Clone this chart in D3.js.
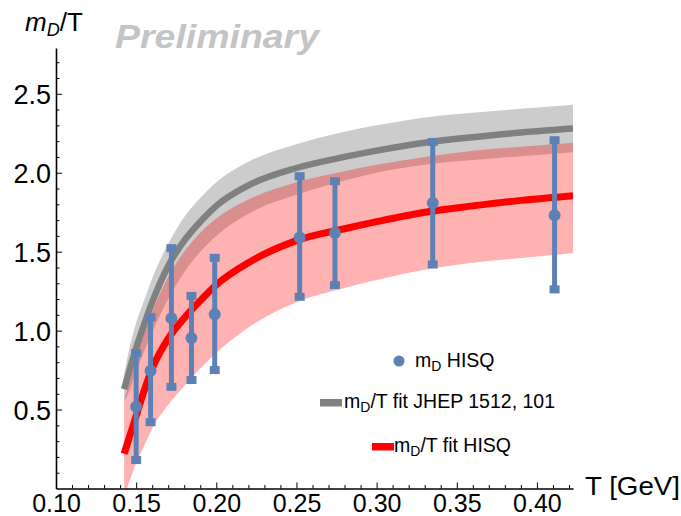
<!DOCTYPE html>
<html>
<head>
<meta charset="utf-8">
<script src="https://cdn.jsdelivr.net/npm/d3@7"></script>
<style>
  body { margin: 0; background: #fff; }
  svg { display: block; font-family: "Liberation Sans", Arial, sans-serif; }
</style>
</head>
<body>
<div id="chart-area"></div>
<script>
const fitT      = [0.1425, 0.145, 0.15, 0.155, 0.16, 0.17, 0.18, 0.19, 0.2, 0.22, 0.25, 0.28, 0.3, 0.33, 0.36, 0.39, 0.4225];
// m_D/T fit JHEP 1512, 101 (grey)
const jhepMid   = [0.63, 0.72, 0.89, 1.04, 1.18, 1.41, 1.57, 1.69, 1.79, 1.92, 2.03, 2.10, 2.14, 2.19, 2.225, 2.255, 2.28];
const jhepHi    = [0.72, 0.85, 1.05, 1.19, 1.33, 1.55, 1.72, 1.84, 1.94, 2.07, 2.18, 2.26, 2.30, 2.35, 2.38, 2.405, 2.43];
const jhepLo    = [0.55, 0.60, 0.74, 0.87, 0.99, 1.20, 1.37, 1.50, 1.60, 1.74, 1.86, 1.95, 2.00, 2.05, 2.08, 2.105, 2.13];
// m_D/T fit HISQ (red)
const hisqMid   = [0.22, 0.30, 0.46, 0.62, 0.76, 0.95, 1.08, 1.19, 1.29, 1.43, 1.57, 1.645, 1.69, 1.75, 1.79, 1.825, 1.855];
const hisqHi    = [0.55, 0.66, 0.84, 0.99, 1.12, 1.34, 1.50, 1.62, 1.71, 1.83, 1.94, 2.01, 2.05, 2.10, 2.14, 2.165, 2.19];
const hisqLo    = [-0.06, 0.02, 0.16, 0.27, 0.38, 0.53, 0.65, 0.76, 0.86, 1.02, 1.18, 1.27, 1.32, 1.385, 1.43, 1.46, 1.49];

// lattice points m_D HISQ
const ptT   = [0.150, 0.159, 0.172, 0.1845, 0.199, 0.252, 0.274, 0.335, 0.411];
const ptVal = [0.518, 0.746, 1.079, 0.953, 1.104, 1.590, 1.619, 1.809, 1.731];
const ptHi  = [0.858, 1.085, 1.522, 1.220, 1.461, 1.978, 1.946, 2.195, 2.206];
const ptLo  = [0.180, 0.420, 0.644, 0.687, 0.750, 1.214, 1.288, 1.419, 1.261];

const xTicks = [0.10, 0.15, 0.20, 0.25, 0.30, 0.35, 0.40];
const yTicks = [0.5, 1.0, 1.5, 2.0, 2.5];

const W = 681, H = 516;
const blue = "#5e81b5";

const x = d3.scaleLinear().domain([0.1, 0.4225]).range([56, 573]);
const y = d3.scaleLinear().domain([0, 2.79]).range([488.5, 48]);

const svg = d3.select("#chart-area").append("svg")
    .attr("width", W)
    .attr("height", H);

svg.append("defs").append("clipPath")
    .attr("id", "plot-clip")
  .append("rect")
    .attr("x", 56).attr("y", 0)
    .attr("width", 573 - 56).attr("height", 488.5);

const fit = fitT.map((t, i) => ({
    t: t,
    jm: jhepMid[i], jh: jhepHi[i], jl: jhepLo[i],
    hm: hisqMid[i], hh: hisqHi[i], hl: hisqLo[i]
}));

const plot = svg.append("g").attr("clip-path", "url(#plot-clip)");

const band = (lo, hi) => d3.area()
    .x(d => x(d.t))
    .y0(d => y(d[lo]))
    .y1(d => y(d[hi]))
    .curve(d3.curveMonotoneX);

const line = key => d3.line()
    .x(d => x(d.t))
    .y(d => y(d[key]))
    .curve(d3.curveMonotoneX);

// bands
plot.append("path")
    .attr("d", band("jl", "jh")(fit))
    .attr("fill", "#cccccc");

plot.append("path")
    .attr("d", band("hl", "hh")(fit))
    .attr("fill", "rgba(255,0,0,0.3)");

// central lines
plot.append("path")
    .attr("d", line("jm")(fit))
    .attr("fill", "none")
    .attr("stroke", "#808080")
    .attr("stroke-width", 6.5);

plot.append("path")
    .attr("d", line("hm")(fit))
    .attr("fill", "none")
    .attr("stroke", "#ff0000")
    .attr("stroke-width", 7);

// error bars
const pts = ptT.map((t, i) => ({ t: t, v: ptVal[i], hi: ptHi[i], lo: ptLo[i] }));
const bars = svg.append("g");

bars.selectAll("line.err")
    .data(pts)
  .enter().append("line")
    .attr("class", "err")
    .attr("x1", d => x(d.t)).attr("x2", d => x(d.t))
    .attr("y1", d => y(d.lo)).attr("y2", d => y(d.hi))
    .attr("stroke", blue)
    .attr("stroke-width", 5);

bars.selectAll("rect.cap-hi")
    .data(pts)
  .enter().append("rect")
    .attr("x", d => x(d.t) - 5).attr("y", d => y(d.hi) - 4)
    .attr("width", 10).attr("height", 8)
    .attr("fill", blue);

bars.selectAll("rect.cap-lo")
    .data(pts)
  .enter().append("rect")
    .attr("x", d => x(d.t) - 5).attr("y", d => y(d.lo) - 4)
    .attr("width", 10).attr("height", 8)
    .attr("fill", blue);

bars.selectAll("circle")
    .data(pts)
  .enter().append("circle")
    .attr("cx", d => x(d.t)).attr("cy", d => y(d.v))
    .attr("r", 6)
    .attr("fill", blue);

// axes (Mathematica style: ticks inside)
const xAxisCall = d3.axisTop(x)
    .tickValues(d3.range(10, 43).map(i => i / 100))
    .tickSize(0)
    .tickFormat("");
const xAxis = svg.append("g")
    .attr("transform", "translate(0,488.5)")
    .call(xAxisCall);
xAxis.select(".domain").attr("stroke", "#000").attr("stroke-width", 1.6);
xAxis.selectAll(".tick line")
    .attr("y2", d => xTicks.some(v => Math.abs(v - d) < 1e-6) ? -6 : -3.5)
    .attr("stroke", "#000").attr("stroke-width", 1);
xAxis.selectAll(".tick")
    .filter(d => xTicks.some(v => Math.abs(v - d) < 1e-6))
    .append("text")
    .attr("y", 23)
    .attr("fill", "#000")
    .attr("text-anchor", "middle")
    .style("font-size", "25px")
    .text(d => d3.format(".2f")(d));

const yAxisCall = d3.axisRight(y)
    .tickValues(d3.range(1, 28).map(i => i / 10))
    .tickSize(0)
    .tickFormat("");
const yAxis = svg.append("g")
    .attr("transform", "translate(56,0)")
    .call(yAxisCall);
yAxis.select(".domain").attr("stroke", "#000").attr("stroke-width", 1.6);
yAxis.selectAll(".tick line")
    .attr("x2", d => yTicks.some(v => Math.abs(v - d) < 1e-6) ? 6 : 3.5)
    .attr("stroke", "#000").attr("stroke-width", 1);
yAxis.selectAll(".tick")
    .filter(d => yTicks.some(v => Math.abs(v - d) < 1e-6))
    .append("text")
    .attr("x", -5)
    .attr("dy", "0.36em")
    .attr("fill", "#000")
    .attr("text-anchor", "end")
    .style("font-size", "27px")
    .text(d => d3.format(".1f")(d));

// axis titles
svg.append("text")
    .attr("x", 585).attr("y", 495)
    .attr("textLength", 95).attr("lengthAdjust", "spacingAndGlyphs")
    .style("font-size", "26px")
    .text("T [GeV]");

const yTitle = svg.append("text")
    .attr("x", 25).attr("y", 31)
    .style("font-size", "26px");
yTitle.append("tspan").style("font-style", "italic").text("m");
yTitle.append("tspan").style("font-style", "italic").style("font-size", "18px").attr("dy", 5).text("D");
yTitle.append("tspan").attr("dy", -5).text("/T");

svg.append("text")
    .attr("x", 115).attr("y", 48)
    .attr("fill", "#c4c4c4")
    .attr("textLength", 204).attr("lengthAdjust", "spacingAndGlyphs")
    .style("font-size", "33px")
    .style("font-weight", "bold")
    .style("font-style", "italic")
    .text("Preliminary");

// legend
const leg = svg.append("g").style("font-size", "19.5px");
leg.append("circle").attr("cx", 399).attr("cy", 361).attr("r", 5.5).attr("fill", blue);
const t1 = leg.append("text").attr("x", 415).attr("y", 367);
t1.append("tspan").text("m");
t1.append("tspan").style("font-size", "14px").attr("dy", 4).text("D");
t1.append("tspan").attr("dy", -4).text(" HISQ");

leg.append("rect").attr("x", 320).attr("y", 399).attr("width", 22).attr("height", 7.5).attr("fill", "#808080");
const t2 = leg.append("text").attr("x", 344).attr("y", 408);
t2.append("tspan").text("m");
t2.append("tspan").style("font-size", "14px").attr("dy", 4).text("D");
t2.append("tspan").attr("dy", -4).text("/T fit JHEP 1512, 101");

leg.append("rect").attr("x", 372).attr("y", 443).attr("width", 22).attr("height", 7.5).attr("fill", "#ff0000");
const t3 = leg.append("text").attr("x", 394).attr("y", 452);
t3.append("tspan").text("m");
t3.append("tspan").style("font-size", "14px").attr("dy", 4).text("D");
t3.append("tspan").attr("dy", -4).text("/T fit HISQ");
</script>
</body>
</html>
